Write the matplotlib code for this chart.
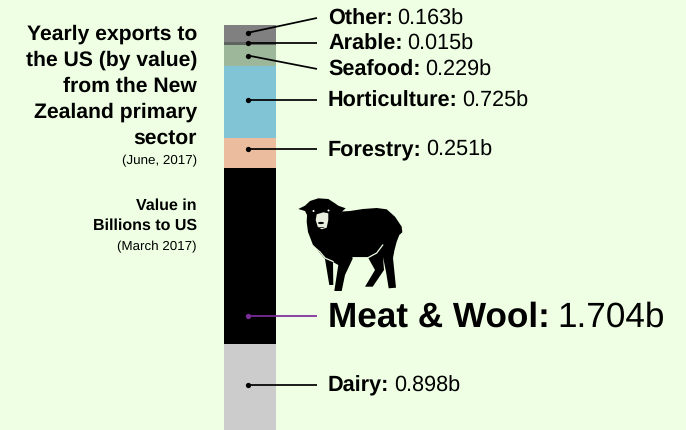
import matplotlib
matplotlib.use("Agg")
import matplotlib.pyplot as plt
from matplotlib.patches import Polygon, Ellipse

plt.rcParams['font.family'] = ['Liberation Sans', 'DejaVu Sans']
plt.rcParams['text.hinting'] = 'no_hinting'
plt.rcParams['text.hinting_factor'] = 8

categories = ["Other", "Arable", "Seafood", "Horticulture", "Forestry", "Meat & Wool", "Dairy"]
value_labels = ["0.163b", "0.015b", "0.229b", "0.725b", "0.251b", "1.704b", "0.898b"]
# segment heights as drawn in the picture (billions, scale about 103 px per billion)
bar_heights = [0.165, 0.03, 0.205, 0.695, 0.29, 1.704, 0.898]
colors = ["#808080", "#5f6360", "#9db79b", "#80c4d6", "#ecbc9e", "#000000", "#cccccc"]
dot_colors = ["black"] * 5 + ["#7b2d9b", "black"]
line_colors = ["black"] * 5 + ["#7b2d9b", "black"]
# connector positions in billions below the top of the bar
label_pos = [-0.068, 0.177, 0.425, 0.725, 1.20, 2.815, 3.48]
dot_pos = [0.075, 0.177, 0.295, 0.725, 1.20, 2.815, 3.48]
label_sizes = [15.6, 15.6, 15.6, 15.6, 15.6, 25.3, 15.6]

BG = "#eeffe4"
W, H = 686, 430
SCALE = 103.4
TOP = 25

fig = plt.figure(figsize=(W / 100, H / 100), dpi=100, facecolor=BG)
ax = fig.add_axes([0, 0, 1, 1])
ax.set_xlim(0, W)
ax.set_ylim((H - TOP) / SCALE, -TOP / SCALE)
ax.axis("off")

BAR_L, BAR_W, MID, LINE_END, TEXT_X = 224, 52, 248, 317, 328

bottom = 0
for h, c in zip(bar_heights, colors):
    ax.bar(BAR_L, h, width=BAR_W, bottom=bottom, color=c, align="edge", linewidth=0)
    bottom += h

for name, val, lp, dp, lc, dc, fs in zip(categories, value_labels, label_pos, dot_pos,
                                         line_colors, dot_colors, label_sizes):
    ax.plot([MID, LINE_END], [dp, lp], color=lc, lw=1.25, solid_capstyle="butt")
    ax.plot([MID], [dp], "o", color=dc, ms=3.8, mew=0)
    base = lp + (fs * 0.42) / SCALE
    t = ax.text(TEXT_X, base, name + ":", fontsize=fs, fontweight="bold", va="baseline", ha="left", color="black")
    fig.canvas.draw()
    bb = t.get_window_extent()
    ax.text(bb.x1 + fs * 0.3, base, val, fontsize=fs, va="baseline", ha="left", color="black")

# left titles (baselines in pixels)
right = 197
title_lines = ["Yearly exports to", "the US (by value)", "from the New", "Zealand primary", "sector"]
title_ys = [40, 66, 92, 118, 144]
for s, y in zip(title_lines, title_ys):
    ax.text(right, (y - TOP) / SCALE, s, fontsize=15.2, fontweight="bold", ha="right", va="baseline")
ax.text(right, (164 - TOP) / SCALE, "(June, 2017)", fontsize=9.6, ha="right", va="baseline")
ax.text(right, (210 - TOP) / SCALE, "Value in", fontsize=11.5, fontweight="bold", ha="right", va="baseline")
ax.text(right, (230 - TOP) / SCALE, "Billions to US", fontsize=11.5, fontweight="bold", ha="right", va="baseline")
ax.text(right, (250 - TOP) / SCALE, "(March 2017)", fontsize=9.6, ha="right", va="baseline")

# sheep icon in a pixel-coordinate overlay
ov = fig.add_axes([0, 0, 1, 1], facecolor="none")
ov.set_xlim(0, W)
ov.set_ylim(H, 0)
ov.axis("off")

sheep = [(298.3, 209), (305, 205.7), (310, 201), (318.3, 198.3), (328.3, 199), (335, 203.3), (338.3, 205.7),
         (345.7, 208.3), (342, 211.5), (350, 211), (363, 209), (376.7, 208), (386.7, 209.3), (395, 216.7),
         (401.7, 226.7), (402.3, 232.3), (399.3, 235), (396.7, 241.7), (394.5, 250), (393, 258), (396, 287.7),
         (388.7, 288.3), (386, 271.7), (383, 257), (384, 270), (372.7, 286.7), (365, 286.7), (375, 270),
         (368.3, 258), (353, 258), (345, 275), (341.7, 291), (334.3, 291), (338.3, 265), (333, 262),
         (333.3, 285), (329.3, 285), (325, 259), (313, 245), (308, 232), (306.7, 222), (307, 215), (305, 211)]
ov.add_patch(Polygon(sheep, closed=True, fc="black", ec="none"))
gaps = [[(313, 246), (320, 252), (325, 258), (333, 261.5)],
        [(353, 257.7), (368, 257.7), (376.7, 253), (382.7, 245)]]
for g in gaps:
    ov.plot(*zip(*g), color=BG, lw=0.9)
face = [(316.7, 214.3), (323.3, 212.3), (328.3, 213.3), (328.3, 220), (326.7, 227.7), (321.7, 229.3),
        (317.7, 226.7), (315.7, 220)]
ov.add_patch(Polygon(face, closed=True, fc="#e8efdf", ec="none"))
ov.add_patch(Ellipse((321, 223), 6, 2.2, fc="black", ec="none"))
ov.add_patch(Ellipse((321.5, 227.5), 6, 0.8, fc="black", ec="none"))
for p in [(313.5, 211), (328.5, 210.5)]:
    ov.add_patch(Ellipse(p, 2, 2, fc="white", ec="none"))

fig.savefig("out.png", dpi=100, facecolor=BG)
